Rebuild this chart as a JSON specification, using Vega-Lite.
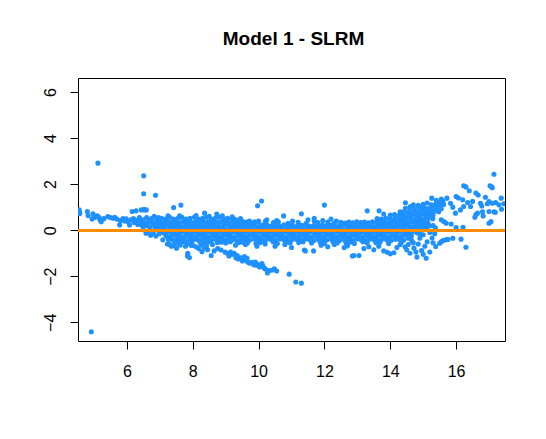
{
  "$schema": "https://vega.github.io/schema/vega-lite/v6.json",
  "width": 427,
  "height": 263,
  "autosize": {"type": "none"},
  "padding": {"left": 78, "top": 78, "right": 41, "bottom": 98},
  "background": "white",
  "title": {
    "text": "Model 1 - SLRM",
    "font": "Liberation Sans",
    "fontSize": 19,
    "fontWeight": "bold",
    "color": "black",
    "anchor": "middle",
    "frame": "group",
    "baseline": "alphabetic",
    "offset": 14,
    "dx": 2
  },
  "config": {
    "view": {"stroke": "black", "strokeWidth": 1},
    "axis": {
      "domain": false,
      "grid": false,
      "ticks": true,
      "tickColor": "black",
      "tickSize": 8,
      "labelFont": "Liberation Sans",
      "labelFontSize": 16,
      "labelColor": "black",
      "title": null
    }
  },
  "data": {
    "values": [
      {"fit":5.12,"res":2.91},{"fit":6.51,"res":2.36},{"fit":6.51,"res":1.58},{"fit":6.87,"res":1.52},{"fit":4.92,"res":-4.41},
      {"fit":7.42,"res":0.98},{"fit":7.64,"res":1.09},{"fit":8.36,"res":0.74},{"fit":8.73,"res":0.70},{"fit":9.97,"res":1.06},
      {"fit":10.09,"res":1.27},{"fit":12.0,"res":1.09},{"fit":10.76,"res":0.62},{"fit":11.3,"res":0.71},{"fit":11.03,"res":0.40},
      {"fit":11.69,"res":0.52},{"fit":11.69,"res":0.40},{"fit":12.36,"res":0.40},{"fit":13.3,"res":0.84},{"fit":6.53,"res":0.88},{"fit":6.59,"res":0.88},
      {"fit":4.55,"res":0.88},{"fit":4.56,"res":0.78},{"fit":4.57,"res":0.72},{"fit":4.80,"res":0.81},{"fit":4.82,"res":0.64},{"fit":4.94,"res":0.49},
      {"fit":4.97,"res":0.71},{"fit":5.02,"res":0.55},{"fit":5.10,"res":0.62},{"fit":5.15,"res":0.56},{"fit":5.18,"res":0.45},{"fit":5.22,"res":0.37},
      {"fit":5.30,"res":0.50},{"fit":5.42,"res":0.59},{"fit":5.50,"res":0.55},{"fit":5.58,"res":0.52},{"fit":5.63,"res":0.56},{"fit":5.70,"res":0.48},
      {"fit":5.78,"res":0.23},{"fit":5.80,"res":0.42},{"fit":5.88,"res":0.50},{"fit":5.93,"res":0.40},{"fit":5.98,"res":0.49},{"fit":6.03,"res":0.38},
      {"fit":6.08,"res":0.23},{"fit":6.12,"res":0.45},{"fit":6.16,"res":0.81},{"fit":6.20,"res":0.50},{"fit":6.22,"res":0.33},{"fit":6.28,"res":0.84},
      {"fit":6.30,"res":0.42},{"fit":6.33,"res":0.25},{"fit":6.38,"res":0.55},{"fit":6.42,"res":0.35},{"fit":6.44,"res":0.88},{"fit":6.47,"res":0.18},
      {"fit":6.50,"res":0.45},{"fit":6.52,"res":0.90},{"fit":6.55,"res":0.30},{"fit":6.58,"res":-0.13},{"fit":6.60,"res":0.55},{"fit":6.62,"res":0.20},
      {"fit":6.65,"res":-0.06},{"fit":6.68,"res":0.40},{"fit":6.70,"res":0.10},{"fit":6.72,"res":-0.22},{"fit":6.75,"res":0.50},{"fit":6.78,"res":0.28},
      {"fit":6.80,"res":-0.10},{"fit":6.83,"res":0.60},{"fit":6.85,"res":0.15},{"fit":6.88,"res":-0.25},{"fit":6.90,"res":0.40},{"fit":6.93,"res":0.05},
      {"fit":6.96,"res":0.55},{"fit":6.98,"res":-0.15},{"fit":7.09,"res":-0.42},{"fit":6.40,"res":0.30},{"fit":6.50,"res":0.15},{"fit":6.62,"res":0.32},
      {"fit":6.70,"res":0.45},{"fit":6.82,"res":0.32},{"fit":6.88,"res":0.12},{"fit":6.92,"res":0.50},{"fit":6.96,"res":0.28},

      {"fit":7.00,"res":0.20},{"fit":7.13,"res":0.17},{"fit":7.26,"res":0.23},{"fit":7.39,"res":0.19},{"fit":7.52,"res":0.22},{"fit":7.65,"res":0.16},
      {"fit":7.78,"res":0.21},{"fit":7.91,"res":0.24},{"fit":8.04,"res":0.18},{"fit":8.17,"res":0.20},{"fit":8.30,"res":0.17},{"fit":8.43,"res":0.23},
      {"fit":8.56,"res":0.19},{"fit":8.69,"res":0.22},{"fit":8.82,"res":0.16},{"fit":8.95,"res":0.21},{"fit":9.08,"res":0.24},{"fit":9.21,"res":0.18},
      {"fit":9.34,"res":0.20},{"fit":9.47,"res":0.17},{"fit":9.60,"res":0.23},{"fit":9.73,"res":0.19},{"fit":9.86,"res":0.22},{"fit":9.99,"res":0.16},
      {"fit":10.12,"res":0.21},{"fit":10.25,"res":0.24},{"fit":10.38,"res":0.18},{"fit":10.51,"res":0.20},{"fit":10.64,"res":0.17},{"fit":10.77,"res":0.23},
      {"fit":10.90,"res":0.19},{"fit":11.03,"res":0.22},{"fit":11.16,"res":0.16},{"fit":11.29,"res":0.21},{"fit":11.42,"res":0.24},{"fit":11.55,"res":0.18},
      {"fit":11.68,"res":0.20},{"fit":11.81,"res":0.17},{"fit":11.94,"res":0.23},{"fit":12.07,"res":0.19},{"fit":12.20,"res":0.22},{"fit":12.33,"res":0.16},
      {"fit":12.46,"res":0.21},{"fit":12.59,"res":0.24},{"fit":12.72,"res":0.18},{"fit":12.85,"res":0.20},{"fit":12.98,"res":0.17},{"fit":13.11,"res":0.23},
      {"fit":13.24,"res":0.19},{"fit":13.37,"res":0.22},{"fit":13.50,"res":0.16},{"fit":13.63,"res":0.21},{"fit":13.76,"res":0.24},{"fit":13.89,"res":0.18},
      {"fit":14.02,"res":0.20},{"fit":14.15,"res":0.17},{"fit":14.28,"res":0.23},{"fit":14.41,"res":0.19},{"fit":14.54,"res":0.22},{"fit":14.67,"res":0.16},
      {"fit":14.80,"res":0.21},{"fit":14.93,"res":0.24},{"fit":15.06,"res":0.18},{"fit":15.19,"res":0.20},

      {"fit":7.06,"res":0.06},{"fit":7.19,"res":0.03},{"fit":7.32,"res":0.08},{"fit":7.45,"res":0.05},{"fit":7.58,"res":0.09},{"fit":7.71,"res":0.04},
      {"fit":7.84,"res":0.07},{"fit":7.97,"res":0.06},{"fit":8.10,"res":0.03},{"fit":8.23,"res":0.08},{"fit":8.36,"res":0.05},{"fit":8.49,"res":0.09},
      {"fit":8.62,"res":0.04},{"fit":8.75,"res":0.07},{"fit":8.88,"res":0.06},{"fit":9.01,"res":0.03},{"fit":9.14,"res":0.08},{"fit":9.27,"res":0.05},
      {"fit":9.40,"res":0.09},{"fit":9.53,"res":0.04},{"fit":9.66,"res":0.07},{"fit":9.79,"res":0.06},{"fit":9.92,"res":0.03},{"fit":10.05,"res":0.08},
      {"fit":10.18,"res":0.05},{"fit":10.31,"res":0.09},{"fit":10.44,"res":0.04},{"fit":10.57,"res":0.07},{"fit":10.70,"res":0.06},{"fit":10.83,"res":0.03},
      {"fit":10.96,"res":0.08},{"fit":11.09,"res":0.05},{"fit":11.22,"res":0.09},{"fit":11.35,"res":0.04},{"fit":11.48,"res":0.07},{"fit":11.61,"res":0.06},
      {"fit":11.74,"res":0.03},{"fit":11.87,"res":0.08},{"fit":12.00,"res":0.05},{"fit":12.13,"res":0.09},{"fit":12.26,"res":0.04},{"fit":12.39,"res":0.07},
      {"fit":12.52,"res":0.06},{"fit":12.65,"res":0.03},{"fit":12.78,"res":0.08},{"fit":12.91,"res":0.05},{"fit":13.04,"res":0.09},{"fit":13.17,"res":0.04},
      {"fit":13.30,"res":0.07},{"fit":13.43,"res":0.06},{"fit":13.56,"res":0.03},{"fit":13.69,"res":0.08},{"fit":13.82,"res":0.05},{"fit":13.95,"res":0.09},
      {"fit":14.08,"res":0.04},{"fit":14.21,"res":0.07},{"fit":14.34,"res":0.06},{"fit":14.47,"res":0.03},{"fit":14.60,"res":0.08},{"fit":14.73,"res":0.05},
      {"fit":14.86,"res":0.09},{"fit":14.99,"res":0.04},{"fit":15.12,"res":0.07},

      {"fit":7.00,"res":-0.10},{"fit":7.13,"res":-0.13},{"fit":7.26,"res":-0.08},{"fit":7.39,"res":-0.11},{"fit":7.52,"res":-0.14},{"fit":7.65,"res":-0.09},
      {"fit":7.78,"res":-0.10},{"fit":7.91,"res":-0.13},{"fit":8.04,"res":-0.08},{"fit":8.17,"res":-0.11},{"fit":8.30,"res":-0.14},{"fit":8.43,"res":-0.09},
      {"fit":8.56,"res":-0.10},{"fit":8.69,"res":-0.13},{"fit":8.82,"res":-0.08},{"fit":8.95,"res":-0.11},{"fit":9.08,"res":-0.14},{"fit":9.21,"res":-0.09},
      {"fit":9.34,"res":-0.10},{"fit":9.47,"res":-0.13},{"fit":9.60,"res":-0.08},{"fit":9.73,"res":-0.11},{"fit":9.86,"res":-0.14},{"fit":9.99,"res":-0.09},
      {"fit":10.12,"res":-0.10},{"fit":10.25,"res":-0.13},{"fit":10.38,"res":-0.08},{"fit":10.51,"res":-0.11},{"fit":10.64,"res":-0.14},{"fit":10.77,"res":-0.09},
      {"fit":10.90,"res":-0.10},{"fit":11.03,"res":-0.13},{"fit":11.16,"res":-0.08},{"fit":11.29,"res":-0.11},{"fit":11.42,"res":-0.14},{"fit":11.55,"res":-0.09},
      {"fit":11.68,"res":-0.10},{"fit":11.81,"res":-0.13},{"fit":11.94,"res":-0.08},{"fit":12.07,"res":-0.11},{"fit":12.20,"res":-0.14},{"fit":12.33,"res":-0.09},
      {"fit":12.46,"res":-0.10},{"fit":12.59,"res":-0.13},{"fit":12.72,"res":-0.08},{"fit":12.85,"res":-0.11},{"fit":12.98,"res":-0.14},{"fit":13.11,"res":-0.09},
      {"fit":13.24,"res":-0.10},{"fit":13.37,"res":-0.13},{"fit":13.50,"res":-0.08},{"fit":13.63,"res":-0.11},{"fit":13.76,"res":-0.14},{"fit":13.89,"res":-0.09},
      {"fit":14.02,"res":-0.10},{"fit":14.15,"res":-0.13},{"fit":14.28,"res":-0.08},{"fit":14.41,"res":-0.11},{"fit":14.54,"res":-0.14},{"fit":14.67,"res":-0.09},
      {"fit":14.82,"res":-0.12},

      {"fit":7.19,"res":-0.25},{"fit":7.32,"res":-0.28},{"fit":7.45,"res":-0.22},{"fit":7.58,"res":-0.26},{"fit":7.71,"res":-0.30},{"fit":7.84,"res":-0.24},
      {"fit":7.97,"res":-0.25},{"fit":8.10,"res":-0.28},{"fit":8.23,"res":-0.22},{"fit":8.36,"res":-0.26},{"fit":8.49,"res":-0.30},{"fit":8.62,"res":-0.24},
      {"fit":8.75,"res":-0.25},{"fit":8.88,"res":-0.28},{"fit":9.01,"res":-0.22},{"fit":9.14,"res":-0.26},{"fit":9.27,"res":-0.30},{"fit":9.40,"res":-0.24},
      {"fit":9.53,"res":-0.25},{"fit":9.66,"res":-0.28},{"fit":9.79,"res":-0.22},{"fit":9.92,"res":-0.26},{"fit":10.05,"res":-0.30},{"fit":10.18,"res":-0.24},
      {"fit":10.31,"res":-0.25},{"fit":10.44,"res":-0.28},{"fit":10.57,"res":-0.22},{"fit":10.70,"res":-0.26},{"fit":10.83,"res":-0.30},{"fit":10.96,"res":-0.24},
      {"fit":11.09,"res":-0.25},{"fit":11.22,"res":-0.28},{"fit":11.35,"res":-0.22},{"fit":11.48,"res":-0.26},{"fit":11.61,"res":-0.30},{"fit":11.74,"res":-0.24},
      {"fit":11.87,"res":-0.25},{"fit":12.00,"res":-0.28},{"fit":12.13,"res":-0.22},{"fit":12.26,"res":-0.26},{"fit":12.39,"res":-0.30},{"fit":12.52,"res":-0.24},
      {"fit":12.65,"res":-0.25},{"fit":12.78,"res":-0.28},{"fit":12.91,"res":-0.22},{"fit":13.04,"res":-0.26},{"fit":13.17,"res":-0.30},{"fit":13.30,"res":-0.24},
      {"fit":13.43,"res":-0.25},{"fit":13.56,"res":-0.28},{"fit":13.69,"res":-0.22},{"fit":13.82,"res":-0.26},{"fit":13.95,"res":-0.30},{"fit":14.08,"res":-0.24},
      {"fit":14.21,"res":-0.25},{"fit":14.34,"res":-0.28},{"fit":14.47,"res":-0.22},{"fit":14.64,"res":-0.26},

      {"fit":7.26,"res":-0.40},{"fit":7.39,"res":-0.43},{"fit":7.52,"res":-0.38},{"fit":7.65,"res":-0.42},{"fit":7.78,"res":-0.45},{"fit":7.91,"res":-0.39},
      {"fit":8.04,"res":-0.40},{"fit":8.17,"res":-0.43},{"fit":8.30,"res":-0.38},{"fit":8.43,"res":-0.42},{"fit":8.56,"res":-0.45},{"fit":8.69,"res":-0.39},
      {"fit":8.82,"res":-0.40},{"fit":8.95,"res":-0.43},{"fit":9.08,"res":-0.38},{"fit":9.21,"res":-0.42},{"fit":9.34,"res":-0.45},{"fit":9.47,"res":-0.39},
      {"fit":9.60,"res":-0.40},{"fit":9.73,"res":-0.43},{"fit":9.86,"res":-0.38},{"fit":9.99,"res":-0.42},{"fit":10.12,"res":-0.45},{"fit":10.25,"res":-0.39},
      {"fit":10.38,"res":-0.40},{"fit":10.51,"res":-0.43},{"fit":10.64,"res":-0.38},{"fit":10.77,"res":-0.42},{"fit":10.90,"res":-0.45},{"fit":11.03,"res":-0.39},
      {"fit":11.16,"res":-0.40},{"fit":11.29,"res":-0.43},{"fit":11.42,"res":-0.38},{"fit":11.55,"res":-0.42},{"fit":11.68,"res":-0.45},{"fit":11.81,"res":-0.39},
      {"fit":11.94,"res":-0.40},{"fit":12.07,"res":-0.43},{"fit":12.20,"res":-0.38},{"fit":12.33,"res":-0.42},{"fit":12.46,"res":-0.45},{"fit":12.59,"res":-0.39},
      {"fit":12.72,"res":-0.40},{"fit":12.85,"res":-0.43},{"fit":12.98,"res":-0.38},{"fit":13.11,"res":-0.42},{"fit":13.24,"res":-0.45},{"fit":13.37,"res":-0.39},
      {"fit":13.50,"res":-0.40},{"fit":13.63,"res":-0.43},{"fit":13.76,"res":-0.38},{"fit":13.89,"res":-0.42},{"fit":14.02,"res":-0.45},{"fit":14.15,"res":-0.39},
      {"fit":14.28,"res":-0.40},{"fit":14.41,"res":-0.43},

      {"fit":7.45,"res":-0.52},{"fit":7.58,"res":-0.56},{"fit":7.71,"res":-0.50},{"fit":7.84,"res":-0.58},{"fit":7.97,"res":-0.54},{"fit":8.23,"res":-0.52},
      {"fit":8.36,"res":-0.56},{"fit":8.49,"res":-0.50},{"fit":8.75,"res":-0.54},{"fit":8.88,"res":-0.52},{"fit":9.01,"res":-0.56},{"fit":9.14,"res":-0.50},
      {"fit":9.40,"res":-0.54},{"fit":9.53,"res":-0.52},{"fit":9.66,"res":-0.56},{"fit":9.92,"res":-0.58},{"fit":10.05,"res":-0.54},{"fit":10.18,"res":-0.52},
      {"fit":10.44,"res":-0.50},{"fit":10.57,"res":-0.58},{"fit":10.83,"res":-0.52},{"fit":10.96,"res":-0.56},{"fit":11.22,"res":-0.54},{"fit":11.35,"res":-0.50},
      {"fit":11.61,"res":-0.56},{"fit":11.87,"res":-0.52},{"fit":12.00,"res":-0.58},{"fit":12.26,"res":-0.50},{"fit":12.39,"res":-0.56},{"fit":12.65,"res":-0.54},
      {"fit":12.78,"res":-0.52},{"fit":12.91,"res":-0.58},{"fit":13.17,"res":-0.50},{"fit":13.30,"res":-0.56},{"fit":13.56,"res":-0.54},{"fit":13.69,"res":-0.52},
      {"fit":13.95,"res":-0.58},

      {"fit":7.30,"res":-0.62},{"fit":7.45,"res":-0.68},{"fit":7.62,"res":-0.64},{"fit":7.78,"res":-0.70},{"fit":7.95,"res":-0.66},{"fit":8.10,"res":-0.72},
      {"fit":8.25,"res":-0.64},{"fit":8.42,"res":-0.68},{"fit":8.60,"res":-0.62},

      {"fit":7.05,"res":0.52},{"fit":7.18,"res":0.48},{"fit":7.30,"res":0.56},{"fit":7.42,"res":0.48},{"fit":7.55,"res":0.52},{"fit":7.67,"res":0.56},
      {"fit":7.80,"res":0.48},{"fit":7.92,"res":0.52},{"fit":8.05,"res":0.56},{"fit":8.17,"res":0.48},{"fit":8.30,"res":0.52},{"fit":8.42,"res":0.56},
      {"fit":8.55,"res":0.48},{"fit":8.68,"res":0.52},{"fit":8.80,"res":0.56},{"fit":8.93,"res":0.48},{"fit":9.05,"res":0.52},{"fit":9.18,"res":0.50},
      {"fit":9.30,"res":0.46},{"fit":9.45,"res":0.50},{"fit":7.25,"res":0.62},{"fit":7.60,"res":0.62},{"fit":8.10,"res":0.64},{"fit":8.50,"res":0.60},
      {"fit":8.90,"res":0.62},{"fit":9.20,"res":0.58},

      {"fit":7.00,"res":0.35},{"fit":7.12,"res":0.33},{"fit":7.24,"res":0.37},{"fit":7.36,"res":0.34},{"fit":7.48,"res":0.36},{"fit":7.60,"res":0.33},
      {"fit":7.72,"res":0.37},{"fit":7.84,"res":0.35},{"fit":7.96,"res":0.33},{"fit":8.08,"res":0.36},{"fit":8.20,"res":0.34},{"fit":8.32,"res":0.37},
      {"fit":8.44,"res":0.35},{"fit":8.56,"res":0.33},{"fit":8.68,"res":0.36},{"fit":8.80,"res":0.34},{"fit":8.92,"res":0.37},{"fit":9.04,"res":0.35},
      {"fit":9.16,"res":0.33},{"fit":9.28,"res":0.36},{"fit":9.40,"res":0.34},{"fit":9.52,"res":0.37},{"fit":9.64,"res":0.35},{"fit":9.76,"res":0.33},
      {"fit":9.88,"res":0.36},{"fit":10.00,"res":0.34},{"fit":10.20,"res":0.38},{"fit":10.45,"res":0.33},{"fit":10.60,"res":0.36},{"fit":10.90,"res":0.30},
      {"fit":11.20,"res":0.34},{"fit":11.45,"res":0.30},{"fit":11.80,"res":0.33},{"fit":12.10,"res":0.35},{"fit":12.30,"res":0.30},{"fit":12.50,"res":0.34},
      {"fit":12.62,"res":0.31},{"fit":12.74,"res":0.35},{"fit":12.86,"res":0.32},{"fit":12.98,"res":0.36},{"fit":13.10,"res":0.33},{"fit":13.22,"res":0.35},
      {"fit":13.34,"res":0.32},{"fit":13.46,"res":0.36},{"fit":13.58,"res":0.34},{"fit":13.70,"res":0.37},{"fit":13.82,"res":0.35},{"fit":13.94,"res":0.33},
      {"fit":14.06,"res":0.36},{"fit":14.18,"res":0.34},{"fit":14.30,"res":0.37},{"fit":14.42,"res":0.35},{"fit":14.54,"res":0.33},{"fit":14.66,"res":0.36},
      {"fit":14.78,"res":0.34},{"fit":14.90,"res":0.37},{"fit":15.02,"res":0.35},{"fit":15.14,"res":0.33},
      {"fit":9.72,"res":0.40},{"fit":10.00,"res":0.40},{"fit":10.25,"res":0.45},{"fit":10.55,"res":0.42},{"fit":11.50,"res":0.45},{"fit":11.95,"res":0.42},{"fit":12.20,"res":0.48},

      {"fit":13.60,"res":0.50},{"fit":13.73,"res":0.48},{"fit":13.86,"res":0.53},{"fit":13.99,"res":0.50},{"fit":14.12,"res":0.47},{"fit":14.25,"res":0.52},
      {"fit":14.38,"res":0.49},{"fit":14.51,"res":0.53},{"fit":14.64,"res":0.50},{"fit":14.77,"res":0.47},{"fit":14.90,"res":0.52},{"fit":15.03,"res":0.49},
      {"fit":15.16,"res":0.53},{"fit":15.29,"res":0.50},
      {"fit":13.66,"res":0.84},{"fit":13.80,"res":0.70},{"fit":14.15,"res":0.62},{"fit":14.00,"res":0.66},{"fit":14.13,"res":0.68},{"fit":14.26,"res":0.64},
      {"fit":14.39,"res":0.66},{"fit":14.52,"res":0.63},{"fit":14.65,"res":0.67},{"fit":14.78,"res":0.64},{"fit":14.91,"res":0.66},{"fit":15.04,"res":0.68},
      {"fit":15.17,"res":0.63},{"fit":15.30,"res":0.65},
      {"fit":14.30,"res":0.80},{"fit":14.43,"res":0.82},{"fit":14.56,"res":0.78},{"fit":14.69,"res":0.81},{"fit":14.82,"res":0.79},{"fit":14.95,"res":0.83},
      {"fit":15.08,"res":0.80},{"fit":15.21,"res":0.78},{"fit":15.34,"res":0.82},{"fit":15.47,"res":0.80},
      {"fit":14.46,"res":0.95},{"fit":14.60,"res":0.97},{"fit":14.75,"res":0.93},{"fit":14.90,"res":0.96},{"fit":15.02,"res":0.98},{"fit":15.15,"res":0.94},
      {"fit":15.28,"res":0.97},{"fit":15.40,"res":0.95},{"fit":15.55,"res":0.93},
      {"fit":14.70,"res":1.10},{"fit":14.85,"res":1.08},{"fit":15.00,"res":1.12},{"fit":15.12,"res":1.18},{"fit":15.25,"res":1.10},{"fit":15.38,"res":1.14},
      {"fit":15.50,"res":1.08},{"fit":15.62,"res":1.12},

      {"fit":15.26,"res":1.39},{"fit":15.40,"res":1.30},{"fit":15.55,"res":1.35},{"fit":15.72,"res":1.39},{"fit":15.60,"res":1.25},{"fit":15.83,"res":1.17},
      {"fit":15.90,"res":1.00},{"fit":15.98,"res":0.74},{"fit":16.00,"res":1.46},{"fit":16.07,"res":1.40},{"fit":16.13,"res":0.88},{"fit":16.20,"res":1.32},
      {"fit":16.23,"res":1.03},{"fit":16.23,"res":1.93},{"fit":16.30,"res":1.88},{"fit":16.40,"res":1.71},{"fit":16.35,"res":1.20},{"fit":16.44,"res":1.03},
      {"fit":16.50,"res":1.25},{"fit":16.57,"res":0.56},{"fit":16.60,"res":0.68},{"fit":16.60,"res":1.61},{"fit":16.65,"res":0.74},{"fit":16.67,"res":1.53},
      {"fit":16.74,"res":1.17},{"fit":16.78,"res":1.05},{"fit":16.80,"res":0.80},{"fit":16.82,"res":0.62},{"fit":16.89,"res":1.43},{"fit":16.95,"res":1.15},
      {"fit":17.00,"res":1.24},{"fit":17.00,"res":0.81},{"fit":17.00,"res":0.30},{"fit":17.03,"res":1.93},{"fit":17.06,"res":0.37},{"fit":17.08,"res":1.88},
      {"fit":17.10,"res":1.84},{"fit":17.10,"res":1.17},{"fit":17.15,"res":2.43},{"fit":17.15,"res":0.80},{"fit":17.19,"res":0.78},{"fit":17.20,"res":1.20},
      {"fit":17.30,"res":1.10},{"fit":17.37,"res":1.39},{"fit":17.38,"res":0.91},{"fit":17.45,"res":1.15},{"fit":15.55,"res":0.45},{"fit":15.63,"res":0.38},
      {"fit":15.70,"res":0.30},{"fit":15.85,"res":0.27},{"fit":16.00,"res":0.11},{"fit":16.21,"res":0.13},{"fit":15.30,"res":0.20},{"fit":15.37,"res":0.10},
      {"fit":14.46,"res":1.19},{"fit":14.60,"res":1.02},{"fit":15.50,"res":1.20},

      {"fit":14.35,"res":-0.50},{"fit":14.45,"res":-0.72},{"fit":14.50,"res":-0.85},{"fit":14.55,"res":-0.62},{"fit":14.60,"res":-1.00},{"fit":14.65,"res":-0.45},
      {"fit":14.72,"res":-0.78},{"fit":14.78,"res":-0.95},{"fit":14.81,"res":-1.17},{"fit":14.85,"res":-0.60},{"fit":14.90,"res":-0.35},{"fit":14.95,"res":-0.88},
      {"fit":15.00,"res":-1.05},{"fit":15.05,"res":-0.70},{"fit":15.09,"res":-1.22},{"fit":15.12,"res":-0.50},{"fit":15.20,"res":-0.95},{"fit":15.27,"res":-0.34},
      {"fit":15.30,"res":-0.55},{"fit":15.38,"res":-0.71},{"fit":15.50,"res":-0.57},{"fit":15.55,"res":-0.50},{"fit":15.60,"res":-0.45},{"fit":15.68,"res":-0.42},
      {"fit":15.75,"res":-0.40},{"fit":15.90,"res":-0.35},{"fit":16.15,"res":-0.39},{"fit":16.30,"res":-0.74},{"fit":15.00,"res":-0.20},{"fit":14.90,"res":-0.15},
      {"fit":15.20,"res":-0.10},{"fit":15.35,"res":-0.15},{"fit":14.55,"res":-0.35},{"fit":14.70,"res":-0.55},

      {"fit":7.51,"res":-0.78},{"fit":7.23,"res":-0.60},{"fit":7.35,"res":-0.70},{"fit":7.85,"res":-1.00},{"fit":7.90,"res":-1.19},{"fit":7.84,"res":-1.12},
      {"fit":8.00,"res":-0.66},{"fit":8.18,"res":-0.80},{"fit":8.28,"res":-0.94},{"fit":8.35,"res":-0.78},{"fit":8.45,"res":-0.85},{"fit":8.56,"res":-1.10},
      {"fit":8.65,"res":-0.90},{"fit":8.76,"res":-0.80},{"fit":8.86,"res":-0.86},{"fit":8.98,"res":-0.95},{"fit":9.04,"res":-1.00},{"fit":9.10,"res":-1.12},
      {"fit":9.20,"res":-1.05},{"fit":9.26,"res":-1.00},{"fit":9.31,"res":-1.20},{"fit":9.38,"res":-1.25},{"fit":9.45,"res":-1.20},{"fit":9.51,"res":-1.34},
      {"fit":9.57,"res":-1.15},{"fit":9.62,"res":-1.30},{"fit":9.67,"res":-1.38},{"fit":9.72,"res":-1.43},{"fit":9.80,"res":-1.40},{"fit":9.85,"res":-1.50},
      {"fit":9.92,"res":-1.52},{"fit":9.97,"res":-1.48},{"fit":10.03,"res":-1.60},{"fit":10.07,"res":-1.58},{"fit":10.13,"res":-1.55},{"fit":10.18,"res":-1.66},
      {"fit":10.22,"res":-1.70},{"fit":10.27,"res":-1.86},{"fit":10.33,"res":-1.75},{"fit":10.42,"res":-1.73},{"fit":10.48,"res":-1.68},{"fit":10.55,"res":-1.77},
      {"fit":10.93,"res":-1.91},{"fit":11.13,"res":-2.25},{"fit":11.30,"res":-2.30},{"fit":9.15,"res":-0.95},{"fit":9.35,"res":-1.10},{"fit":9.65,"res":-1.22},
      {"fit":9.90,"res":-1.38},{"fit":10.10,"res":-1.45},

      {"fit":9.30,"res":-0.65},{"fit":9.60,"res":-0.62},{"fit":9.95,"res":-0.70},{"fit":10.20,"res":-0.60},{"fit":10.50,"res":-0.70},{"fit":10.80,"res":-0.62},
      {"fit":11.00,"res":-0.75},{"fit":11.39,"res":-0.86},{"fit":11.42,"res":-0.90},{"fit":11.67,"res":-0.90},{"fit":11.90,"res":-0.65},{"fit":12.10,"res":-0.72},
      {"fit":12.30,"res":-0.62},{"fit":12.60,"res":-0.75},{"fit":12.70,"res":-0.68},{"fit":12.85,"res":-1.12},{"fit":12.90,"res":-1.10},{"fit":13.05,"res":-1.10},
      {"fit":13.20,"res":-0.80},{"fit":13.35,"res":-0.72},{"fit":13.50,"res":-0.85},{"fit":13.65,"res":-0.70},{"fit":13.80,"res":-0.90},{"fit":13.91,"res":-0.96},
      {"fit":14.00,"res":-1.03},{"fit":14.11,"res":-0.98},{"fit":14.20,"res":-0.75},{"fit":14.30,"res":-0.62}
    ]
  },
  "layer": [
    {
      "mark": {"type": "circle", "color": "#1E90FF", "opacity": 1, "size": 26, "clip": true},
      "encoding": {
        "x": {
          "field": "fit",
          "type": "quantitative",
          "scale": {"domain": [4.515, 17.485], "nice": false, "zero": false},
          "axis": {"values": [6, 8, 10, 12, 14, 16], "labelBaseline": "alphabetic", "labelPadding": 27.5}
        },
        "y": {
          "field": "res",
          "type": "quantitative",
          "scale": {"domain": [-4.813, 6.609], "nice": false, "zero": false},
          "axis": {"values": [-4, -2, 0, 2, 4, 6], "labelAngle": -90, "labelAlign": "center", "labelBaseline": "alphabetic", "labelPadding": 14.5}
        }
      }
    },
    {
      "mark": {"type": "rule", "color": "#FF8C00", "strokeWidth": 2},
      "encoding": {"y": {"datum": 0}}
    }
  ]
}
